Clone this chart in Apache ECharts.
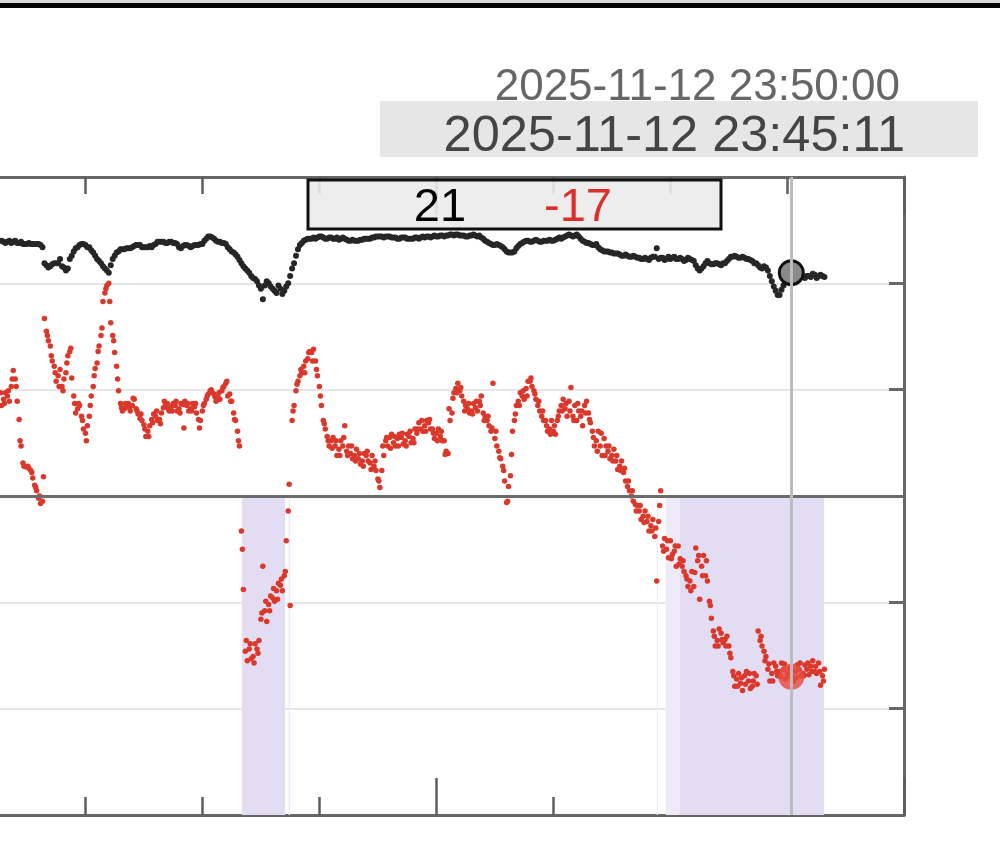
<!DOCTYPE html>
<html><head><meta charset="utf-8">
<script src="https://cdn.jsdelivr.net/npm/echarts@6/dist/echarts.min.js"></script>
<style>html,body{margin:0;padding:0;background:#fff;}#c{width:1000px;height:843px;}</style>
</head><body><div id="c"></div>
<script>
// sample times: seconds relative to 2025-11-12 23:15:00
const T0 = -219;
const STEP = 5;
const blackValues = [
23.9,24.0,23.9,23.8,23.9,24.0,23.8,23.9,24.0,23.8,23.8,23.9,23.7,23.7,23.7,23.8,23.7,23.7,23.7,23.7,
23.7,23.6,23.4,21.9,21.7,21.5,21.6,21.8,21.9,21.9,21.9,22.3,21.6,21.5,21.2,21.4,22.3,22.6,23.0,23.3,
23.4,23.6,23.7,23.7,23.6,23.4,23.4,23.1,22.9,22.6,22.3,22.1,21.9,21.6,21.4,21.2,21.0,21.7,22.3,22.6,
22.9,23.0,23.2,23.2,23.2,23.3,23.3,23.3,23.4,23.5,23.6,23.6,23.6,23.4,23.4,23.4,23.4,23.5,23.4,23.6,
23.7,23.9,23.9,23.9,23.9,23.8,23.8,23.9,23.9,23.8,23.8,23.7,23.4,23.3,23.5,23.6,23.6,23.5,23.4,23.5,
23.6,23.6,23.6,23.7,23.7,24.0,24.2,24.4,24.4,24.3,24.2,24.0,23.9,23.9,23.8,23.8,23.7,23.4,23.2,23.0,
22.9,22.7,22.5,22.2,21.9,21.6,21.4,21.2,21.0,20.7,20.5,20.4,20.2,19.8,19.5,18.5,19.8,20.2,20.0,19.7,
19.5,19.3,19.1,19.8,19.5,19.0,19.3,19.7,20.0,20.7,21.4,21.9,22.6,23.2,23.6,23.8,24.0,24.1,24.2,24.2,
24.2,24.3,24.2,24.3,24.4,24.4,24.3,24.2,24.2,24.3,24.3,24.2,24.2,24.3,24.1,24.2,24.3,24.2,24.1,24.0,
24.0,24.1,24.0,24.0,24.0,24.1,24.1,24.2,24.2,24.2,24.2,24.3,24.3,24.4,24.4,24.4,24.4,24.3,24.4,24.4,
24.4,24.3,24.3,24.3,24.2,24.2,24.3,24.3,24.3,24.2,24.2,24.2,24.2,24.3,24.3,24.2,24.3,24.4,24.3,24.4,
24.4,24.3,24.4,24.5,24.4,24.4,24.5,24.5,24.4,24.5,24.5,24.6,24.6,24.5,24.6,24.6,24.5,24.5,24.5,24.4,
24.4,24.5,24.5,24.6,24.5,24.4,24.5,24.3,24.2,24.0,23.9,23.8,23.7,23.6,23.6,23.7,23.6,23.5,23.4,23.2,
23.0,22.9,22.9,22.9,23.0,23.3,23.5,23.7,23.8,23.9,24.0,24.0,23.9,23.9,24.0,24.1,24.0,23.9,23.9,24.0,
24.0,24.0,24.1,24.0,24.0,24.1,24.2,24.3,24.2,24.3,24.4,24.5,24.6,24.5,24.4,24.5,24.6,24.4,24.2,24.0,
23.9,23.8,23.8,23.7,23.6,23.6,23.7,23.4,23.2,23.1,23.0,23.0,23.0,22.9,22.9,22.8,22.8,22.8,22.7,22.6,
22.6,22.7,22.6,22.5,22.5,22.6,22.5,22.4,22.4,22.3,22.3,22.4,22.3,22.2,22.4,22.5,22.5,23.3,22.3,22.4,
22.4,22.2,22.3,22.5,22.3,22.4,22.5,22.3,22.3,22.4,22.3,22.1,22.2,22.4,22.3,22.2,22.1,21.7,21.4,21.2,
21.4,21.6,21.9,22.1,21.9,21.8,21.8,21.9,21.9,21.8,21.7,21.9,21.9,22.1,22.3,22.5,22.5,22.6,22.5,22.4,
22.4,22.5,22.4,22.3,22.3,22.2,22.1,21.9,21.9,21.7,21.5,21.4,21.6,21.5,21.2,20.7,20.2,19.7,19.3,18.9,
18.9,19.4,19.8,20.1,20.4,20.7,21.0,20.5,20.7,20.6,20.6,20.8,20.6,20.5,20.7,20.7,20.6,20.9,20.8,20.5,
20.7,20.8,20.7,20.6];
const redValues = [
8.9,8.5,9.1,9.7,9.4,8.9,10.3,11.8,11.0,8.9,7.2,4.7,3.1,2.8,2.7,2.6,2.4,1.7,1.0,0.5,
-0.2,-0.7,-0.5,16.7,15.5,14.6,14.1,12.7,12.2,10.8,11.3,11.9,10.3,11.0,11.6,13.2,13.6,11.1,9.4,7.8,
8.2,8.5,7.5,6.3,5.9,6.6,7.5,9.4,10.3,12.0,12.5,14.1,15.1,18.3,19.1,19.8,20.0,16.3,15.1,13.5,
12.2,9.9,8.7,8.0,8.2,8.5,8.7,8.0,8.5,9.1,8.2,7.7,7.3,7.1,6.7,5.6,6.1,6.6,7.2,7.7,
7.5,7.1,7.2,7.8,8.3,8.5,8.7,8.0,8.4,8.7,8.5,8.0,8.2,8.7,8.6,8.9,8.5,8.0,8.2,8.7,
8.4,7.8,7.2,7.1,8.0,8.7,9.1,9.6,9.9,9.7,9.6,8.9,9.3,9.1,9.9,10.3,10.6,9.4,9.6,8.9,
7.8,7.1,6.1,4.7,-3.3,-8.8,-14.6,-15.5,-14.4,-15.3,-15.1,-13.9,-14.4,-13.6,-11.6,-6.6,-10.8,-11.8,-10.2,-9.4,
-9.6,-9.9,-8.9,-8.2,-8.4,-8.9,-7.5,-4.2,-1.4,-10.3,7.1,8.5,9.9,10.8,11.3,11.6,12.2,12.7,12.9,13.6,
13.5,13.8,12.7,11.3,10.3,8.5,7.1,6.3,5.6,4.7,5.2,5.5,4.7,3.8,4.4,5.2,4.7,6.6,4.2,4.7,
4.0,3.5,3.8,4.4,3.5,3.0,3.3,4.0,3.8,3.3,3.1,3.8,2.8,2.4,1.6,0.8,2.4,3.8,5.2,4.7,
5.5,5.8,5.0,4.7,5.4,5.8,5.5,4.9,5.2,5.8,5.6,5.0,5.4,6.3,5.9,6.9,6.3,6.1,6.6,7.1,
6.9,6.3,6.3,5.4,5.9,6.3,5.6,5.2,5.2,4.2,4.0,7.1,7.8,9.7,10.1,10.6,9.9,9.4,8.9,8.5,
8.2,7.8,8.0,8.7,8.3,8.0,8.9,9.4,7.8,7.5,7.1,6.6,6.1,10.6,5.4,4.7,4.2,3.5,2.8,1.4,
-0.6,0.9,1.9,6.1,7.1,8.5,8.9,9.7,9.4,9.1,10.1,10.8,10.8,10.3,9.9,9.1,8.5,8.0,7.5,7.1,
7.1,6.1,6.3,7.1,6.1,5.8,7.1,8.0,8.5,9.1,8.2,7.5,8.9,10.2,7.5,8.5,7.1,8.0,7.5,6.6,
8.5,8.9,7.8,6.9,6.1,4.7,5.2,6.1,4.7,3.8,5.4,4.7,4.2,3.5,3.8,4.4,3.3,2.5,2.8,3.3,
2.2,1.4,0.9,0.5,0.0,-0.5,-0.8,-0.9,-1.4,-2.2,-1.9,-1.4,-2.4,-3.3,-2.8,-2.2,-3.8,-8.0,-2.4,0.5,
-4.7,-4.0,-5.0,-5.8,-4.2,-5.5,-5.2,-6.6,-4.7,-5.9,-6.6,-7.1,-7.5,-8.5,-8.0,-7.1,-8.5,-4.9,-6.1,-9.7,
-6.6,-5.6,-7.5,-8.0,-9.9,-11.5,-12.7,-14.1,-13.6,-12.5,-12.9,-13.8,-13.5,-13.2,-14.1,-15.2,-16.5,-17.9,-17.2,-16.7,
-17.6,-18.3,-16.9,-16.5,-17.4,-18.1,-17.9,-16.7,-16.9,-12.7,-13.6,-14.1,-14.6,-15.1,-16.3,-17.4,-16.7,-15.7,-16.0,-16.9,
-16.5,-15.7,-16.3,-17.2,-16.7,-16.2,-17.0,-17.4,-16.5,-15.9,-16.3,-16.9,-16.7,-15.9,-16.3,-16.8,-16.0,-15.5,-16.5,-16.7,
-15.7,-17.8,-16.9,-16.3];
// extra red readings between the samples above: offset 2.5 s, every 10 s
const T0_EXTRA = -216.5;
const STEP_EXTRA = 10;
const redExtraValues = [
9.7,8.7,9.9,11.0,10.3,5.2,2.8,2.8,2.2,0.8,
0.0,1.8,15.1,13.2,11.6,10.3,9.9,12.5,13.9,8.7,
8.7,7.1,5.2,8.5,11.3,13.6,15.8,19.5,18.3,14.6,
11.0,8.3,8.7,8.3,9.2,8.0,7.7,6.3,5.6,6.9,
8.0,6.8,8.9,8.2,8.0,8.9,7.8,6.4,8.7,8.0,
8.7,6.4,8.5,9.4,10.0,9.3,9.7,10.2,10.8,8.9,
7.2,5.2,-5.0,-13.6,-13.9,-15.7,-14.8,-11.0,-9.9,-10.8,
-8.7,-9.7,-7.8,-7.1,1.1,8.0,10.5,11.9,11.6,13.5,
12.7,11.9,9.4,6.8,5.2,4.5,5.2,3.8,5.5,3.8,
4.7,3.3,4.0,2.8,4.2,2.5,3.3,1.4,4.7,5.5,
4.5,5.6,4.7,5.9,4.7,6.1,5.0,6.3,7.1,6.1,
7.2,5.9,5.2,6.1,3.9,8.2,9.2,9.7,10.2,8.0,
8.7,7.7,8.9,8.5,7.1,7.5,6.4,6.1,3.6,2.4,
-0.5,3.9,7.7,8.5,9.9,9.4,11.1,9.6,8.9,8.0,
6.6,5.8,6.6,7.5,8.0,8.7,8.0,7.1,8.7,8.0,
7.8,7.2,5.5,4.2,5.9,3.8,4.7,3.3,3.8,2.4,
2.6,1.4,0.5,-1.4,-0.9,-2.5,-1.9,-3.3,-3.0,-0.9,
-5.2,-4.2,-5.9,-4.7,-6.4,-6.1,-7.8,-8.9,-7.2,-5.6,
-7.5,-6.1,-10.3,-13.2,-14.1,-13.5,-14.1,-14.8,-16.9,-17.9,
-17.1,-17.7,-16.7,-17.4,-17.7,-13.2,-15.5,-15.8,-17.4,-16.5,
-17.0,-15.8,-16.9,-16.3,-17.1,-15.7,-16.9,-15.7,-16.5,-16.0,
-16.5,-17.4];
const cursorIndex = 406;          // sample at 23:45:11
const cursorTime = 1811;
const xMin = -218, xMax = 2100;
const minorTicks = [0, 300, 600, 900, 1200, 1500, 1800, 2100];
const majorTicks = [900, 2100];
const yMin = -30, yMax = 30, yStep = 10;
// periods with red below zero: [start s, end s, shade]
const bandRanges = [[402,513,'main'],[522,526,'light'],[1466,1469,'light'],[1489,1525,'light'],[1525,1895,'main']];
const rightEdgeLabel = '2025-11-12 23:50:00';
const cursorLabel = '2025-11-12 23:45:11';

const toPairs = (vals, t0, step) => vals.map((v, i) => [t0 + i * step, v]);
const FONT = "'Liberation Sans',Arial,sans-serif";

const chart = echarts.init(document.getElementById('c'));
const tickAxis = (pos, len, ticks, showLine) => ({
  type: 'value', position: pos, min: xMin, max: xMax,
  axisLine: {show: showLine, onZero: false, lineStyle: {color: '#676767', width: 3}},
  axisTick: {show: true, inside: true, length: len, customValues: ticks,
             lineStyle: {color: '#5e5e5e', width: 2.5}},
  axisLabel: {show: false},
  splitLine: {show: false}
});
const redStyle = {color: '#da382b', opacity: 1};
chart.setOption({
  animation: false,
  backgroundColor: '#ffffff',
  grid: {left: 0, right: 96, top: 177, bottom: 28, containLabel: false},
  xAxis: [tickAxis('bottom', 18, minorTicks, true), tickAxis('bottom', 37, majorTicks, false),
          tickAxis('top', 17, minorTicks, true), tickAxis('top', 37, majorTicks, false)],
  yAxis: {
    type: 'value', position: 'right', min: yMin, max: yMax, interval: yStep,
    axisLine: {show: true, onZero: false, lineStyle: {color: '#676767', width: 3}},
    axisTick: {show: true, inside: true, length: 15, lineStyle: {color: '#676767', width: 3}},
    axisLabel: {show: false},
    splitLine: {show: true, lineStyle: {color: '#e6e6e6', width: 2}}
  },
  series: [
    {type: 'scatter', data: [], z: 1, silent: true,
     markArea: {silent: true, data: bandRanges.map(([s, e, k]) => [
       {xAxis: s, yAxis: 0, itemStyle: {color: k === 'main' ? '#e3ddf3' : '#eeeaf8'}},
       {xAxis: e, yAxis: yMin}])}},
    {type: 'scatter', data: [], z: 2, silent: true,
     markLine: {silent: true, symbol: ['none', 'none'], label: {show: false},
       data: [{yAxis: 0, lineStyle: {color: '#6b6b6b', width: 3, type: 'solid'}},
              {xAxis: cursorTime, lineStyle: {color: '#bcbcbc', width: 3, type: 'solid'}}]}},
    {name: 'red', type: 'scatter', data: toPairs(redValues, T0, STEP), symbolSize: 5.5, z: 3,
     itemStyle: redStyle},
    {name: 'red', type: 'scatter', data: toPairs(redExtraValues, T0_EXTRA, STEP_EXTRA), symbolSize: 5.5, z: 3,
     itemStyle: redStyle},
    {name: 'black', type: 'scatter', data: toPairs(blackValues, T0, STEP), symbolSize: 6, z: 3,
     itemStyle: {color: '#262626', opacity: 1}},
    {type: 'scatter', z: 4, data: [[cursorTime, blackValues[cursorIndex]]], symbolSize: 24,
     itemStyle: {color: '#8a8a8a', borderColor: '#111', borderWidth: 3, opacity: 1}},
    {type: 'scatter', z: 4, data: [[cursorTime, redValues[cursorIndex]]], symbolSize: 26,
     itemStyle: {color: 'rgba(232,76,66,0.82)', opacity: 1}}
  ],
  graphic: [
    {type: 'rect', shape: {x: 0, y: 0, width: 1000, height: 3}, style: {fill: '#d8d8d8'}, z: 100},
    {type: 'rect', shape: {x: 0, y: 3, width: 1000, height: 5}, style: {fill: '#050505'}, z: 100},
    {type: 'rect', shape: {x: 380, y: 101, width: 598, height: 56}, style: {fill: '#e6e6e6'}, z: 100},
    {type: 'text', z: 101, style: {text: rightEdgeLabel, x: 900, y: 87.5, fill: '#666666',
      font: '44px ' + FONT, textAlign: 'right', textVerticalAlign: 'middle'}},
    {type: 'text', z: 101, style: {text: cursorLabel, x: 905, y: 137.5, fill: '#444444',
      font: '50.5px ' + FONT, textAlign: 'right', textVerticalAlign: 'middle'}},
    {type: 'rect', z: 100, shape: {x: 308, y: 180, width: 413, height: 49},
      style: {fill: 'rgba(235,235,235,0.9)', stroke: '#111', lineWidth: 3}},
    {type: 'text', z: 101, style: {text: String(Math.round(blackValues[cursorIndex])), x: 440, y: 208,
      fill: '#000', font: '47px ' + FONT, textAlign: 'center', textVerticalAlign: 'middle'}},
    {type: 'text', z: 101, style: {text: String(Math.round(redValues[cursorIndex])), x: 578, y: 208,
      fill: '#d9302a', font: '47px ' + FONT, textAlign: 'center', textVerticalAlign: 'middle'}}
  ]
});
</script></body></html>
